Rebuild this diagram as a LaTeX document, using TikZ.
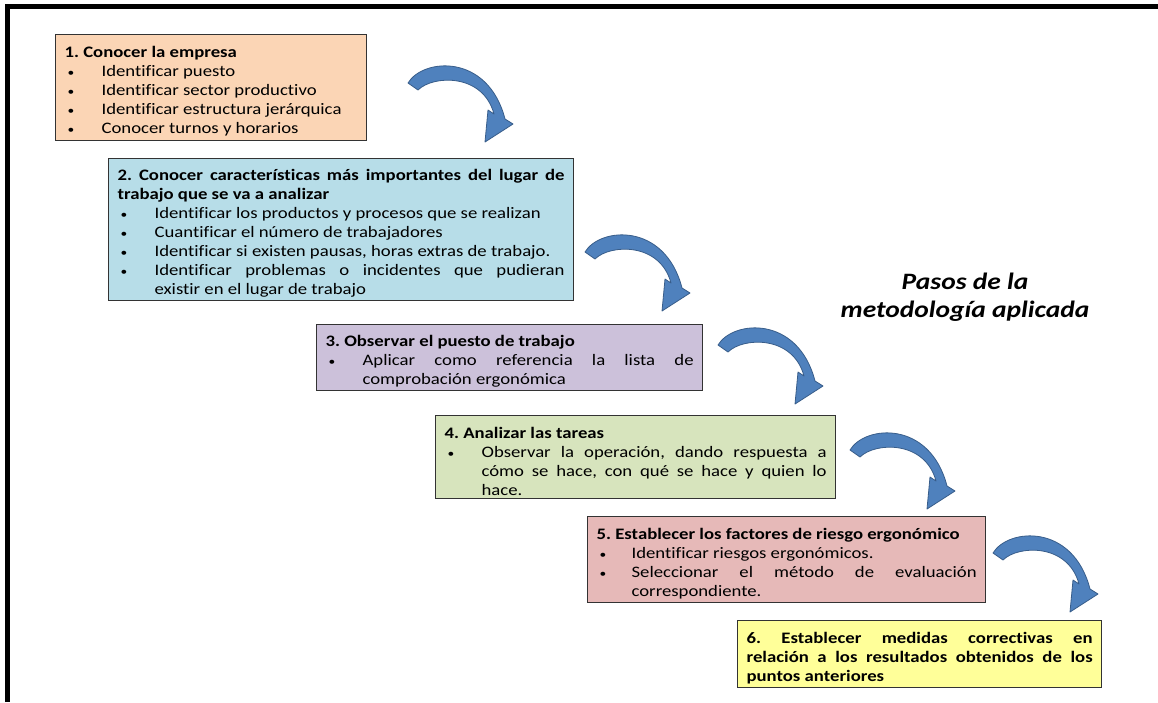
\documentclass[tikz,border=0pt]{standalone}
\usepackage{fontspec}
\setmainfont{Carlito}[FakeStretch=1.17, Ligatures=NoCommon]
\definecolor{c1}{HTML}{FBD5B5}
\definecolor{c2}{HTML}{B7DDE8}
\definecolor{c3}{HTML}{CCC1DA}
\definecolor{c4}{HTML}{D7E4BD}
\definecolor{c5}{HTML}{E6B9B8}
\definecolor{c6}{HTML}{FFFF99}
\definecolor{arrowblue}{HTML}{4F81BD}
\definecolor{arrowedge}{HTML}{385D8A}
\newcommand{\jst}{\leftskip=0pt\rightskip=0pt\parfillskip=0pt plus 1fil\frenchspacing}
\newcommand{\hd}[1]{\par\jst\noindent\textbf{#1}}
\newcommand{\bitem}[2][37pt]{\par\jst\hangindent=#1\hangafter=1\noindent\makebox[#1][l]{\hspace{3pt}{\fontsize{11.5}{11}\selectfont\textbullet}}#2}
\begin{document}
\begin{tikzpicture}[x=1pt,y=-1pt,
  box/.style={draw=black!80, line width=1.2pt, anchor=north west, inner xsep=9pt, inner ysep=0pt,
    align=justify, font=\fontsize{16}{19}\selectfont},
  arrowshape/.style={fill=arrowblue, draw=arrowedge, line width=0.8pt, line join=round},
  carrow/.pic={\filldraw[arrowshape] (0,0) .. controls (15,-25) and (80,-30) .. (97,36)
     -- (105,41) -- (77,59) -- (80,27) -- (86,31) .. controls (75,-10) and (25,-8) .. (10,7) -- cycle;}]
\useasboundingbox (0,0) rectangle (1158,702);
\fill[white] (0,0) rectangle (1158,702);
\draw[line width=5pt, line join=miter] (7,702) -- (7,6.5) -- (1158,6.5);

\node[box, fill=c1, text width=293pt, minimum height=106pt] (b1) at (55,34) {%
\hd{1. Conocer la empresa}
\bitem{Identificar puesto}
\bitem{Identificar sector productivo}
\bitem{Identificar estructura jerárquica}
\bitem{Conocer turnos y horarios}\par};

\node[box, fill=c2, text width=447pt, minimum height=142pt] (b2) at (108,158) {%
\hd{2. Conocer características más importantes del lugar de\linebreak trabajo que se va a analizar}
\bitem{Identificar los productos y procesos que se realizan}
\bitem{Cuantificar el número de trabajadores}
\bitem{Identificar si existen pausas, horas extras de trabajo.}
\bitem{Identificar problemas o incidentes que pudieran\linebreak existir en el lugar de trabajo}\par};

\node[box, fill=c3, text width=368pt, minimum height=66pt] (b3) at (316,324) {%
\hd{3. Observar el puesto de trabajo}
\bitem{Aplicar como referencia la lista de\linebreak comprobación ergonómica}\par};

\node[box, fill=c4, text width=382pt, minimum height=83pt] (b4) at (435,415) {%
\hd{4. Analizar las tareas}
\bitem{Observar la operación, dando respuesta a\linebreak cómo se hace, con qué se hace y quien lo\linebreak hace.}\par};

\node[box, fill=c5, text width=380pt, minimum height=86pt] (b5) at (587,516) {%
\hd{5. Establecer los factores de riesgo ergonómico}
\bitem[35pt]{Identificar riesgos ergonómicos.}
\bitem[35pt]{Seleccionar el método de evaluación\linebreak correspondiente.}\par};

\node[box, fill=c6, text width=346pt, minimum height=67pt] (b6) at (737,620) {%
\par\jst\noindent\textbf{6. Establecer medidas correctivas en\linebreak relación a los resultados obtenidos de los\linebreak puntos anteriores}\par};

\node[font=\fontsize{23.5}{28}\selectfont\bfseries\itshape, align=center] (title) at (965,297)
  {Pasos de la\\metodología aplicada};

\pic (a1) at (408,83) {carrow};
\pic (a2) at (585,252) {carrow};
\pic (a3) at (718,345) {carrow};
\pic (a4) at (850,450) {carrow};
\pic (a5) at (993,553) {carrow};
\end{tikzpicture}
\end{document}
